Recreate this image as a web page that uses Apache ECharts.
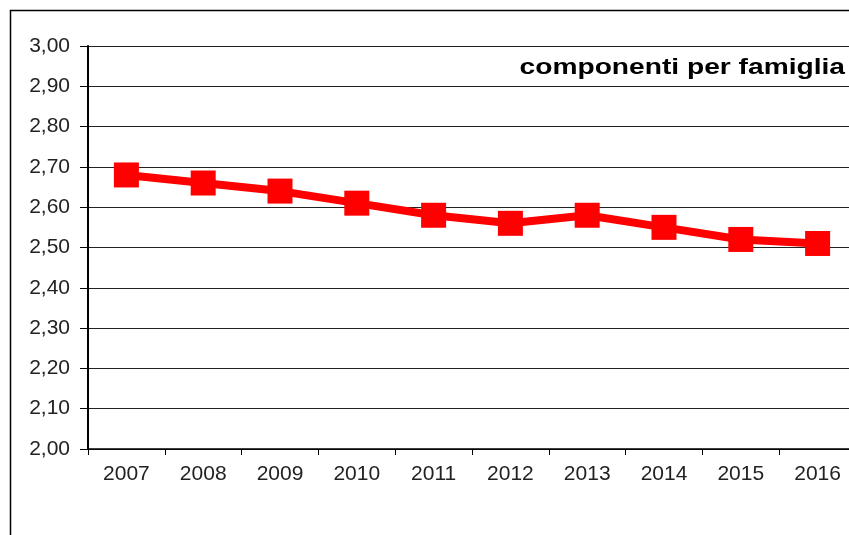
<!DOCTYPE html>
<html>
<head>
<meta charset="utf-8">
<script src="https://cdn.jsdelivr.net/npm/echarts@6/dist/echarts.min.js"></script>
<style>
  html, body { margin: 0; padding: 0; overflow: hidden; background: #fff; }
  #chart { width: 900px; height: 535px; }
</style>
</head>
<body>
<div id="chart"></div>
<script>
const years = ["2007", "2008", "2009", "2010", "2011", "2012", "2013", "2014", "2015", "2016"];
const componenti = [2.68, 2.66, 2.64, 2.61, 2.58, 2.56, 2.58, 2.55, 2.52, 2.51];
const titleText = "componenti per famiglia";

const chart = echarts.init(document.getElementById("chart"));

const options = {
  animation: false,
  textStyle: { fontFamily: "Liberation Sans, Arial, sans-serif" },
  graphic: [
    {
      type: "rect",
      shape: { x: 10.5, y: 10.5, width: 1000, height: 700 },
      style: { fill: "none", stroke: "#000", lineWidth: 1.5 },
      silent: true
    },
    {
      // title is drawn a bit wider, like in the original picture
      type: "text",
      x: 845,
      y: 68,
      scaleX: 1.28,
      originX: 0,
      style: {
        text: titleText,
        font: "bold 22px 'Liberation Sans', Arial, sans-serif",
        fill: "#000",
        align: "right",
        verticalAlign: "middle"
      }
    }
  ],
  grid: { left: 88, right: 44, top: 46, bottom: 86 },
  xAxis: {
    type: "category",
    data: years,
    boundaryGap: true,
    axisLine: { lineStyle: { color: "#000", width: 1.5 } },
    axisTick: { show: true, length: 6, lineStyle: { color: "#000" } },
    axisLabel: { color: "#222", fontSize: 21, margin: 15 }
  },
  yAxis: {
    type: "value",
    min: 2,
    max: 3,
    interval: 0.1,
    axisLine: { show: true, lineStyle: { color: "#000", width: 2 } },
    axisTick: { show: true, length: 8, lineStyle: { color: "#000" } },
    axisLabel: {
      color: "#222",
      fontSize: 21,
      margin: 18,
      formatter: v => v.toFixed(2).replace(".", ",")
    },
    splitLine: { lineStyle: { color: "#222", width: 1 } }
  },
  series: [
    {
      name: titleText,
      type: "line",
      data: componenti,
      symbol: "rect",
      symbolSize: 25,
      itemStyle: { color: "#ff0000" },
      lineStyle: { color: "#ff0000", width: 8 }
    }
  ]
};

chart.setOption(options);
</script>
</body>
</html>
